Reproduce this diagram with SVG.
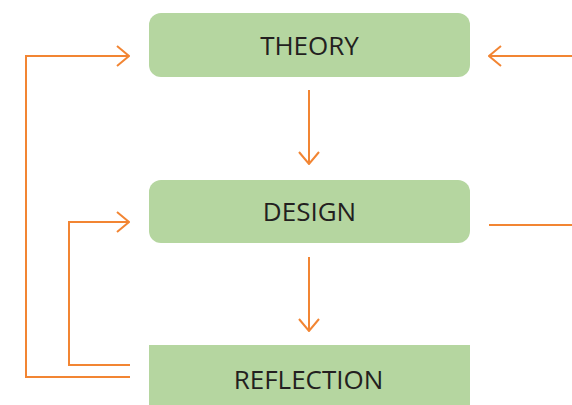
<svg xmlns="http://www.w3.org/2000/svg" width="572" height="405" viewBox="0 0 572 405">
<style>
.box{fill:#b5d6a0}
.lbl{font-family:"Open Sans","Liberation Sans",sans-serif;font-size:26px;fill:#231f20;text-anchor:middle}
.ln{fill:none;stroke:#f28533;stroke-width:2}
</style>
<defs>
<marker id="ah" viewBox="0 0 14 22" refX="13" refY="11" markerWidth="14" markerHeight="22" markerUnits="userSpaceOnUse" orient="auto">
<path d="M1,1 L13,11 L1,21" fill="none" stroke="#f28533" stroke-width="2"/>
</marker>
</defs>
<g id="theory"><rect class="box" x="149" y="13" width="321" height="64" rx="12"/><text class="lbl" x="309.5" y="55">THEORY</text></g>
<g id="design"><rect class="box" x="149" y="180" width="321" height="63" rx="12"/><text class="lbl" x="309.5" y="221">DESIGN</text></g>
<g id="reflection"><rect class="box" x="149" y="345" width="321" height="70"/><text class="lbl" x="308.5" y="389">REFLECTION</text></g>
<g id="connectors">
<path class="ln" d="M309,90 V164" marker-end="url(#ah)"/>
<path class="ln" d="M309,257 V331" marker-end="url(#ah)"/>
<path class="ln" d="M130,377 H26 V56 H129" marker-end="url(#ah)"/>
<path class="ln" d="M130,365 H69 V222 H129" marker-end="url(#ah)"/>
<path class="ln" d="M572,56 H489" marker-end="url(#ah)"/>
<path class="ln" d="M489,225 H572"/>
</g>
</svg>
